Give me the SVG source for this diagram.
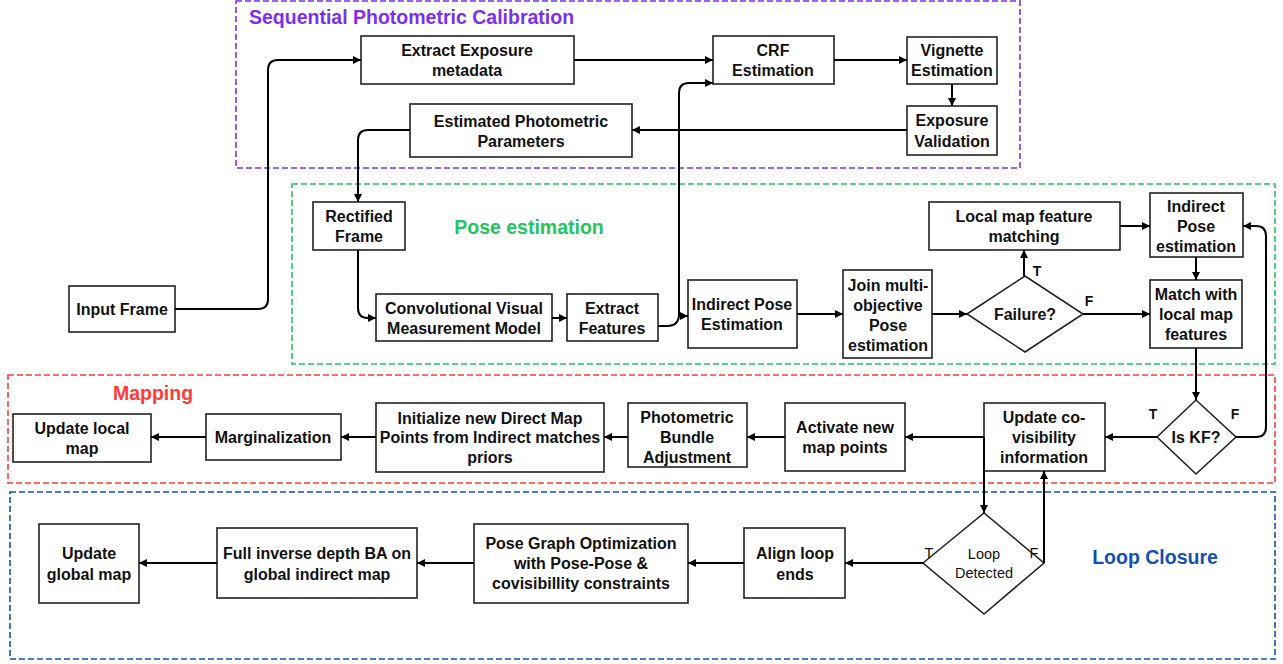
<svg xmlns="http://www.w3.org/2000/svg" width="1283" height="664" viewBox="0 0 1283 664">
<defs>
<marker id="ah" markerUnits="userSpaceOnUse" markerWidth="9" markerHeight="9" refX="8" refY="4.5" orient="auto">
<path d="M0,0.5 L8,4.5 L0,8.5 z" fill="#000"/>
</marker>
</defs>
<style>
.box{fill:#fff;stroke:#222;stroke-width:1.6}
.t{font-family:"Liberation Sans",Arial,sans-serif;font-weight:bold;font-size:16px;fill:#111;text-anchor:middle}
.s{font-family:"Liberation Sans",Arial,sans-serif;font-size:14.5px;fill:#111;text-anchor:middle}
.lab{font-family:"Liberation Sans",Arial,sans-serif;font-weight:bold;font-size:14px;fill:#111;text-anchor:middle}
.c path{fill:none;stroke:#000;stroke-width:2;marker-end:url(#ah)}
.grp{fill:none;stroke-width:1.6;stroke-dasharray:6,3}
.gt{font-family:"Liberation Sans",Arial,sans-serif;font-weight:bold;font-size:19.5px}
</style>
<rect width="1283" height="664" fill="#fff"/>

<g id="groups">
<rect class="grp" x="236" y="1" width="784" height="167" stroke="#7b2ff0"/>
<text class="gt" x="249" y="24" fill="#7b2ff0">Sequential Photometric Calibration</text>
<rect class="grp" x="292" y="184" width="983" height="180" stroke="#22c55e"/>
<text class="gt" x="529" y="234" fill="#22c55e" text-anchor="middle" font-size="21">Pose estimation</text>
<rect class="grp" x="8" y="375" width="1267" height="108" stroke="#ff3b3b"/>
<text class="gt" x="153" y="400" fill="#ff3b3b" text-anchor="middle">Mapping</text>
<rect class="grp" x="10" y="492" width="1265" height="167" stroke="#1450b4"/>
<text class="gt" x="1155" y="564" fill="#1450b4" text-anchor="middle" font-size="17.5">Loop Closure</text>
</g>

<g id="n_extract_exposure"><rect class="box" x="361" y="36" width="213" height="48"/>
<text class="t" x="467" y="56">Extract Exposure</text><text class="t" x="467" y="76">metadata</text></g>
<g id="n_crf"><rect class="box" x="713" y="36" width="121" height="48"/>
<text class="t" x="773" y="56">CRF</text><text class="t" x="773" y="76">Estimation</text></g>
<g id="n_vignette"><rect class="box" x="907" y="37" width="90" height="47"/>
<text class="t" x="952" y="56">Vignette</text><text class="t" x="952" y="76">Estimation</text></g>
<g id="n_exposure_val"><rect class="box" x="907" y="106" width="90" height="49"/>
<text class="t" x="952" y="126">Exposure</text><text class="t" x="952" y="147">Validation</text></g>
<g id="n_est_params"><rect class="box" x="410" y="104" width="222" height="53"/>
<text class="t" x="521" y="127">Estimated Photometric</text><text class="t" x="521" y="147">Parameters</text></g>

<g id="n_rectified"><rect class="box" x="313" y="202" width="92" height="48"/>
<text class="t" x="359" y="222">Rectified</text><text class="t" x="359" y="242">Frame</text></g>
<g id="n_input"><rect class="box" x="69" y="286" width="106" height="46" stroke-width="3"/>
<text class="t" x="122" y="315">Input Frame</text></g>
<g id="n_conv"><rect class="box" x="376" y="294" width="176" height="47"/>
<text class="t" x="464" y="314">Convolutional Visual</text><text class="t" x="464" y="334">Measurement Model</text></g>
<g id="n_extract_feat"><rect class="box" x="567" y="294" width="91" height="47"/>
<text class="t" x="612" y="314">Extract</text><text class="t" x="612" y="334">Features</text></g>
<g id="n_ipe"><rect class="box" x="688" y="280" width="109" height="68"/>
<text class="t" x="742" y="310">Indirect Pose</text><text class="t" x="742" y="330">Estimation</text></g>
<g id="n_join"><rect class="box" x="843" y="270" width="89" height="88"/>
<text class="t" x="888" y="291">Join multi-</text><text class="t" x="888" y="311">objective</text><text class="t" x="888" y="331">Pose</text><text class="t" x="888" y="351">estimation</text></g>
<g id="n_failure"><polygon class="box" points="967,314 1025,276 1083,314 1025,352"/>
<text class="t" x="1025" y="320">Failure?</text></g>
<g id="n_local_match"><rect class="box" x="929" y="202" width="191" height="48"/>
<text class="t" x="1024" y="222">Local map feature</text><text class="t" x="1024" y="242">matching</text></g>
<g id="n_ipe2"><rect class="box" x="1150" y="193" width="93" height="64"/>
<text class="t" x="1196" y="212">Indirect</text><text class="t" x="1196" y="232">Pose</text><text class="t" x="1196" y="252">estimation</text></g>
<g id="n_match_local"><rect class="box" x="1150" y="280" width="92" height="68"/>
<text class="t" x="1196" y="300">Match with</text><text class="t" x="1196" y="320">local map</text><text class="t" x="1196" y="340">features</text></g>

<g id="n_iskf"><polygon class="box" points="1157,437 1196,400 1236,437 1196,474"/>
<text class="t" x="1196" y="443">Is KF?</text></g>
<g id="n_update_co"><rect class="box" x="984" y="403" width="121" height="68"/>
<text class="t" x="1044" y="423">Update co-</text><text class="t" x="1044" y="443">visibility</text><text class="t" x="1044" y="463">information</text></g>
<g id="n_activate"><rect class="box" x="785" y="403" width="120" height="68"/>
<text class="t" x="845" y="433">Activate new</text><text class="t" x="845" y="453">map points</text></g>
<g id="n_photo_ba"><rect class="box" x="628" y="403" width="119" height="64"/>
<text class="t" x="687" y="423">Photometric</text><text class="t" x="687" y="443">Bundle</text><text class="t" x="687" y="463">Adjustment</text></g>
<g id="n_init"><rect class="box" x="376" y="403" width="228" height="69"/>
<text class="t" x="490" y="424">Initialize new Direct Map</text><text class="t" x="490" y="443">Points from Indirect matches</text><text class="t" x="490" y="463">priors</text></g>
<g id="n_marg"><rect class="box" x="206" y="414" width="135" height="46"/>
<text class="t" x="273" y="443">Marginalization</text></g>
<g id="n_update_local"><rect class="box" x="13" y="414" width="138" height="48"/>
<text class="t" x="82" y="434">Update local</text><text class="t" x="82" y="454">map</text></g>

<g id="n_loop"><polygon class="box" points="923,563 984,513 1044,563 984,614"/>
<text class="s" x="984" y="559">Loop</text><text class="s" x="984" y="578">Detected</text></g>
<g id="n_align"><rect class="box" x="744" y="528" width="101" height="70"/>
<text class="t" x="795" y="559">Align loop</text><text class="t" x="795" y="580">ends</text></g>
<g id="n_pgo"><rect class="box" x="474" y="524" width="214" height="79"/>
<text class="t" x="581" y="549">Pose Graph Optimization</text><text class="t" x="581" y="569">with Pose-Pose &amp;</text><text class="t" x="581" y="589">covisibillity constraints</text></g>
<g id="n_fullba"><rect class="box" x="217" y="528" width="200" height="70"/>
<text class="t" x="317" y="559">Full inverse depth BA on</text><text class="t" x="317" y="580">global indirect map</text></g>
<g id="n_update_global"><rect class="box" x="39" y="524" width="100" height="79"/>
<text class="t" x="89" y="559">Update</text><text class="t" x="89" y="580">global map</text></g>

<g id="connectors" class="c">
<path d="M175,309 H258 Q268,309 268,299 V70 Q268,60 278,60 H361"/>
<path d="M574,60 H713"/>
<path d="M834,60 H907"/>
<path d="M952,84 V106"/>
<path d="M907,130 H632"/>
<path d="M410,130 H368 Q358,130 358,140 V202"/>
<path d="M358,250 V308 Q358,318 368,318 H376"/>
<path d="M552,318 H567"/>
<path d="M679,316 H688"/>
<path d="M658,326 H667 Q679,326 679,314 V93 Q679,83 689,83 H713"/>
<path d="M797,314 H843"/>
<path d="M932,314 H967"/>
<path d="M1024,276 V250"/>
<path d="M1120,226 H1150"/>
<path d="M1196,257 V280"/>
<path d="M1083,314 H1150"/>
<path d="M1196,348 V400"/>
<path d="M1236,437 H1256 Q1266,437 1266,427 V236 Q1266,226 1256,226 H1243"/>
<path d="M1157,437 H1105"/>
<path d="M984,437 H905"/>
<path d="M984,437 V513"/>
<path d="M1044,563 V471"/>
<path d="M785,437 H747"/>
<path d="M628,437 H604"/>
<path d="M376,437 H341"/>
<path d="M206,437 H151"/>
<path d="M923,563 H845"/>
<path d="M744,563 H688"/>
<path d="M474,563 H417"/>
<path d="M217,563 H139"/>
</g>

<g id="labels">
<text class="lab" x="1037" y="276">T</text>
<text class="lab" x="1089" y="306">F</text>
<text class="lab" x="1153" y="419">T</text>
<text class="lab" x="1235" y="419">F</text>
<text class="s" x="929" y="558">T</text>
<text class="s" x="1034" y="558">F</text>
</g>
</svg>
